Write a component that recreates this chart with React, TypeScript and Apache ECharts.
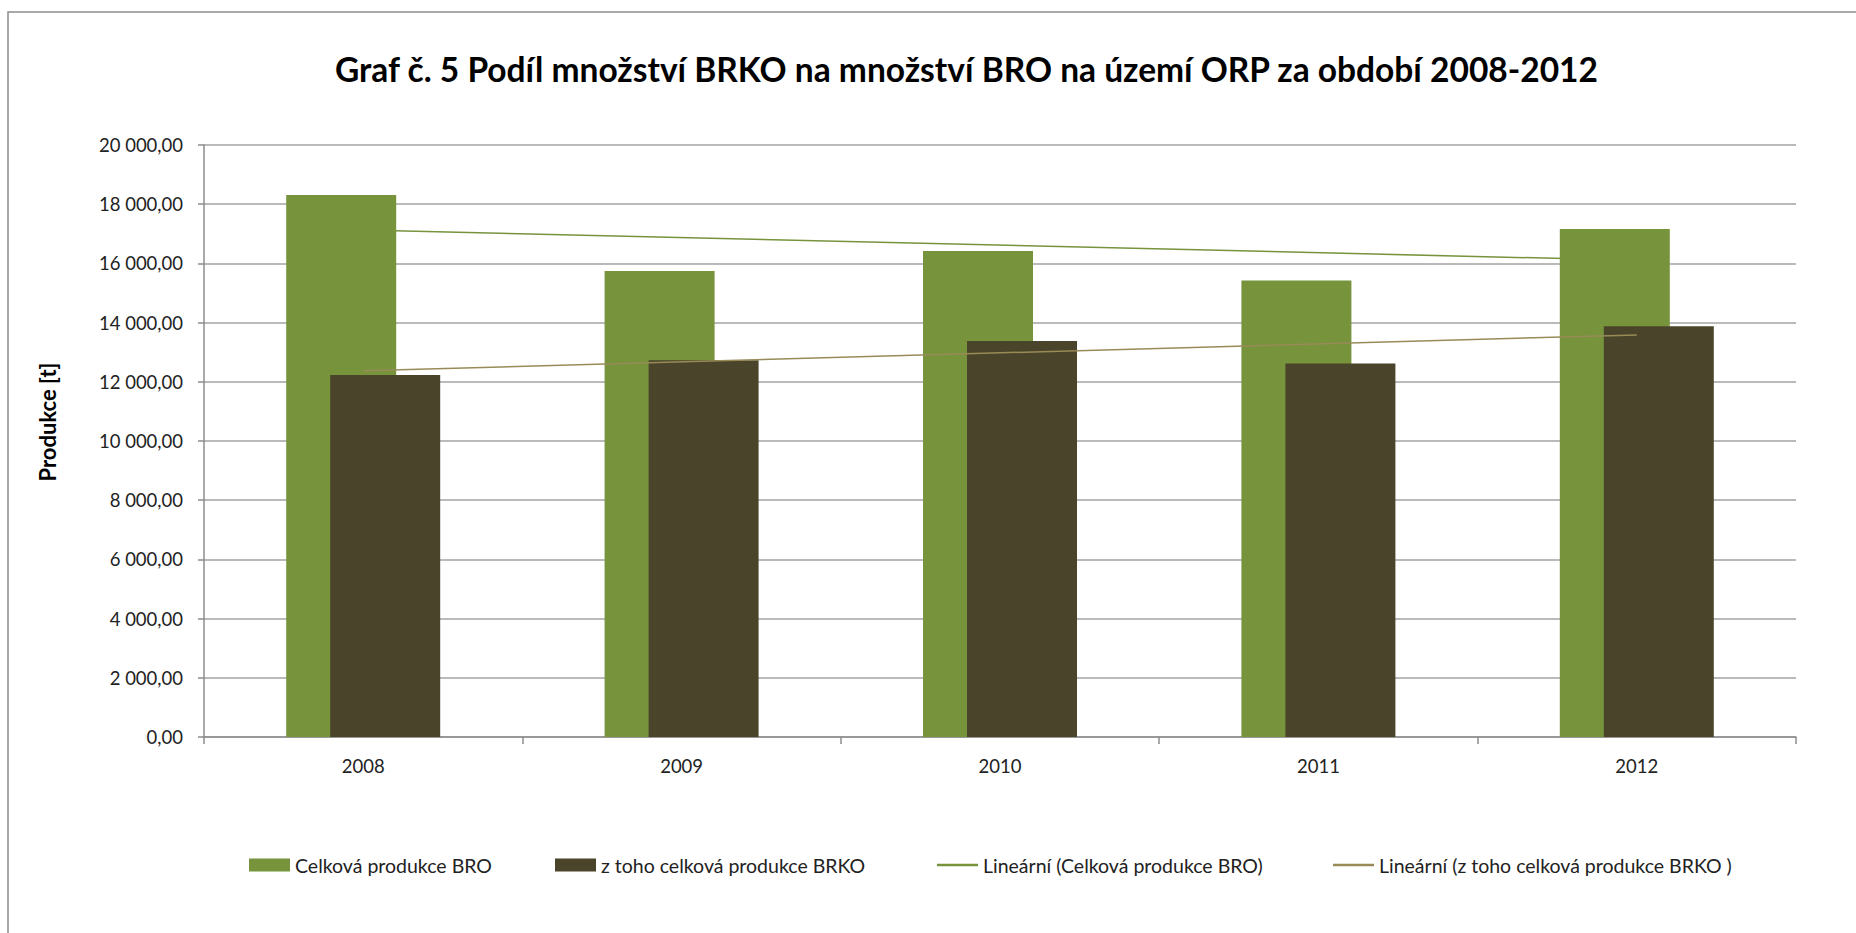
import React, { useEffect, useRef } from "react";
import * as echarts from "echarts";

const categories = ["2008", "2009", "2010", "2011", "2012"];
const broValues = [18310, 15740, 16420, 15420, 17160];
const brkoValues = [12230, 12730, 13380, 12620, 13880];
// trend line end points (first and last category)
const broTrend = [17130, null, null, null, 16105];
const brkoTrend = [12370, null, null, null, 13585];

const seriesNames = [
  "Celková produkce BRO",
  "z toho celková produkce BRKO",
  "Lineární (Celková produkce BRO)",
  "Lineární (z toho celková produkce BRKO )",
];
const titleText = "Graf č. 5 Podíl množství BRKO na množství BRO na území ORP za období 2008-2012";
const yAxisTitle = "Produkce [t]";

const GREEN = "#77933C";
const DARK = "#4A452A";
const GREEN_LINE = "#77933C";
const BROWN_LINE = "#988B58";
const FONT = "Lato";

function fmt(v: number): string {
  const s = v.toFixed(2);
  const [i, d] = s.split(".");
  const withSp = i.replace(/\B(?=(\d{3})+(?!\d))/g, " ");
  return withSp + "," + d;
}

export default function App() {
  const ref = useRef<HTMLDivElement>(null);
  useEffect(() => {
    if (!ref.current) return;
    const chart = echarts.init(ref.current, undefined, { renderer: "svg" });
    const legendBase = {
      top: 855,
      padding: 0,
      itemWidth: 41,
      itemHeight: 13,
      symbolKeepAspect: true,
      selectedMode: false,
      textStyle: { fontFamily: FONT, fontSize: 19.5, color: "#222" },
    };
    chart.setOption({
      animation: false,
      backgroundColor: "#fff",
      title: {
        text: titleText,
        left: 335,
        top: 52,
        padding: 0,
        textStyle: { fontFamily: FONT, fontWeight: "bold", fontSize: 33.5, color: "#000" },
      },
      graphic: [
        {
          type: "rect",
          shape: { x: 8, y: 12, width: 1900, height: 1000 },
          style: { fill: "none", stroke: "#8c8c8c", lineWidth: 1.5 },
          silent: true,
        },
        {
          type: "text",
          x: 47,
          y: 422,
          rotation: Math.PI / 2,
          style: {
            text: yAxisTitle,
            font: `bold 22px ${FONT}`,
            fill: "#000",
            align: "center",
            verticalAlign: "middle",
          },
        },
      ],
      legend: [
        { ...legendBase, left: 249, data: [{ name: seriesNames[0], icon: "rect" }] },
        { ...legendBase, left: 555, data: [{ name: seriesNames[1], icon: "rect" }] },
        { ...legendBase, left: 937, data: [{ name: seriesNames[2], icon: "path://M0,0H41V2.5H0Z" }] },
        { ...legendBase, left: 1333, data: [{ name: seriesNames[3], icon: "path://M0,0H41V2.5H0Z" }] },
      ],
      grid: { left: 204, right: 60, top: 145, bottom: 196, containLabel: false },
      xAxis: {
        type: "category",
        data: categories,
        axisLine: { lineStyle: { color: "#8c8c8c", width: 1.5 } },
        axisTick: { show: true, length: 7, lineStyle: { color: "#8c8c8c", width: 1.5 } },
        axisLabel: { margin: 19, fontFamily: FONT, fontSize: 18.5, color: "#222" },
      },
      yAxis: {
        type: "value",
        min: 0,
        max: 20000,
        interval: 2000,
        axisLine: { show: true, lineStyle: { color: "#8c8c8c", width: 1.5 } },
        axisTick: { show: true, length: 6, lineStyle: { color: "#8c8c8c", width: 1.5 } },
        splitLine: { show: true, lineStyle: { color: "#a3a3a3", width: 1.5 } },
        axisLabel: {
          margin: 21,
          fontFamily: FONT,
          fontSize: 18.5,
          color: "#222",
          formatter: (v: number) => fmt(v),
        },
      },
      series: [
        {
          name: seriesNames[0],
          type: "bar",
          data: broValues,
          barWidth: 110,
          barGap: "-60%",
          itemStyle: { color: GREEN },
        },
        {
          name: seriesNames[1],
          type: "bar",
          data: brkoValues,
          barWidth: 110,
          barGap: "-60%",
          itemStyle: { color: DARK },
        },
        {
          name: seriesNames[2],
          type: "line",
          data: broTrend,
          connectNulls: true,
          symbol: "none",
          itemStyle: { color: GREEN_LINE },
          lineStyle: { color: GREEN_LINE, width: 1.5 },
        },
        {
          name: seriesNames[3],
          type: "line",
          data: brkoTrend,
          connectNulls: true,
          symbol: "none",
          itemStyle: { color: BROWN_LINE },
          lineStyle: { color: BROWN_LINE, width: 1.5 },
        },
      ],
    });
    return () => chart.dispose();
  }, []);
  return (
    <div
      ref={ref}
      style={{ position: "absolute", left: 0, top: 0, width: 1856, height: 933, background: "#fff" }}
    />
  );
}
